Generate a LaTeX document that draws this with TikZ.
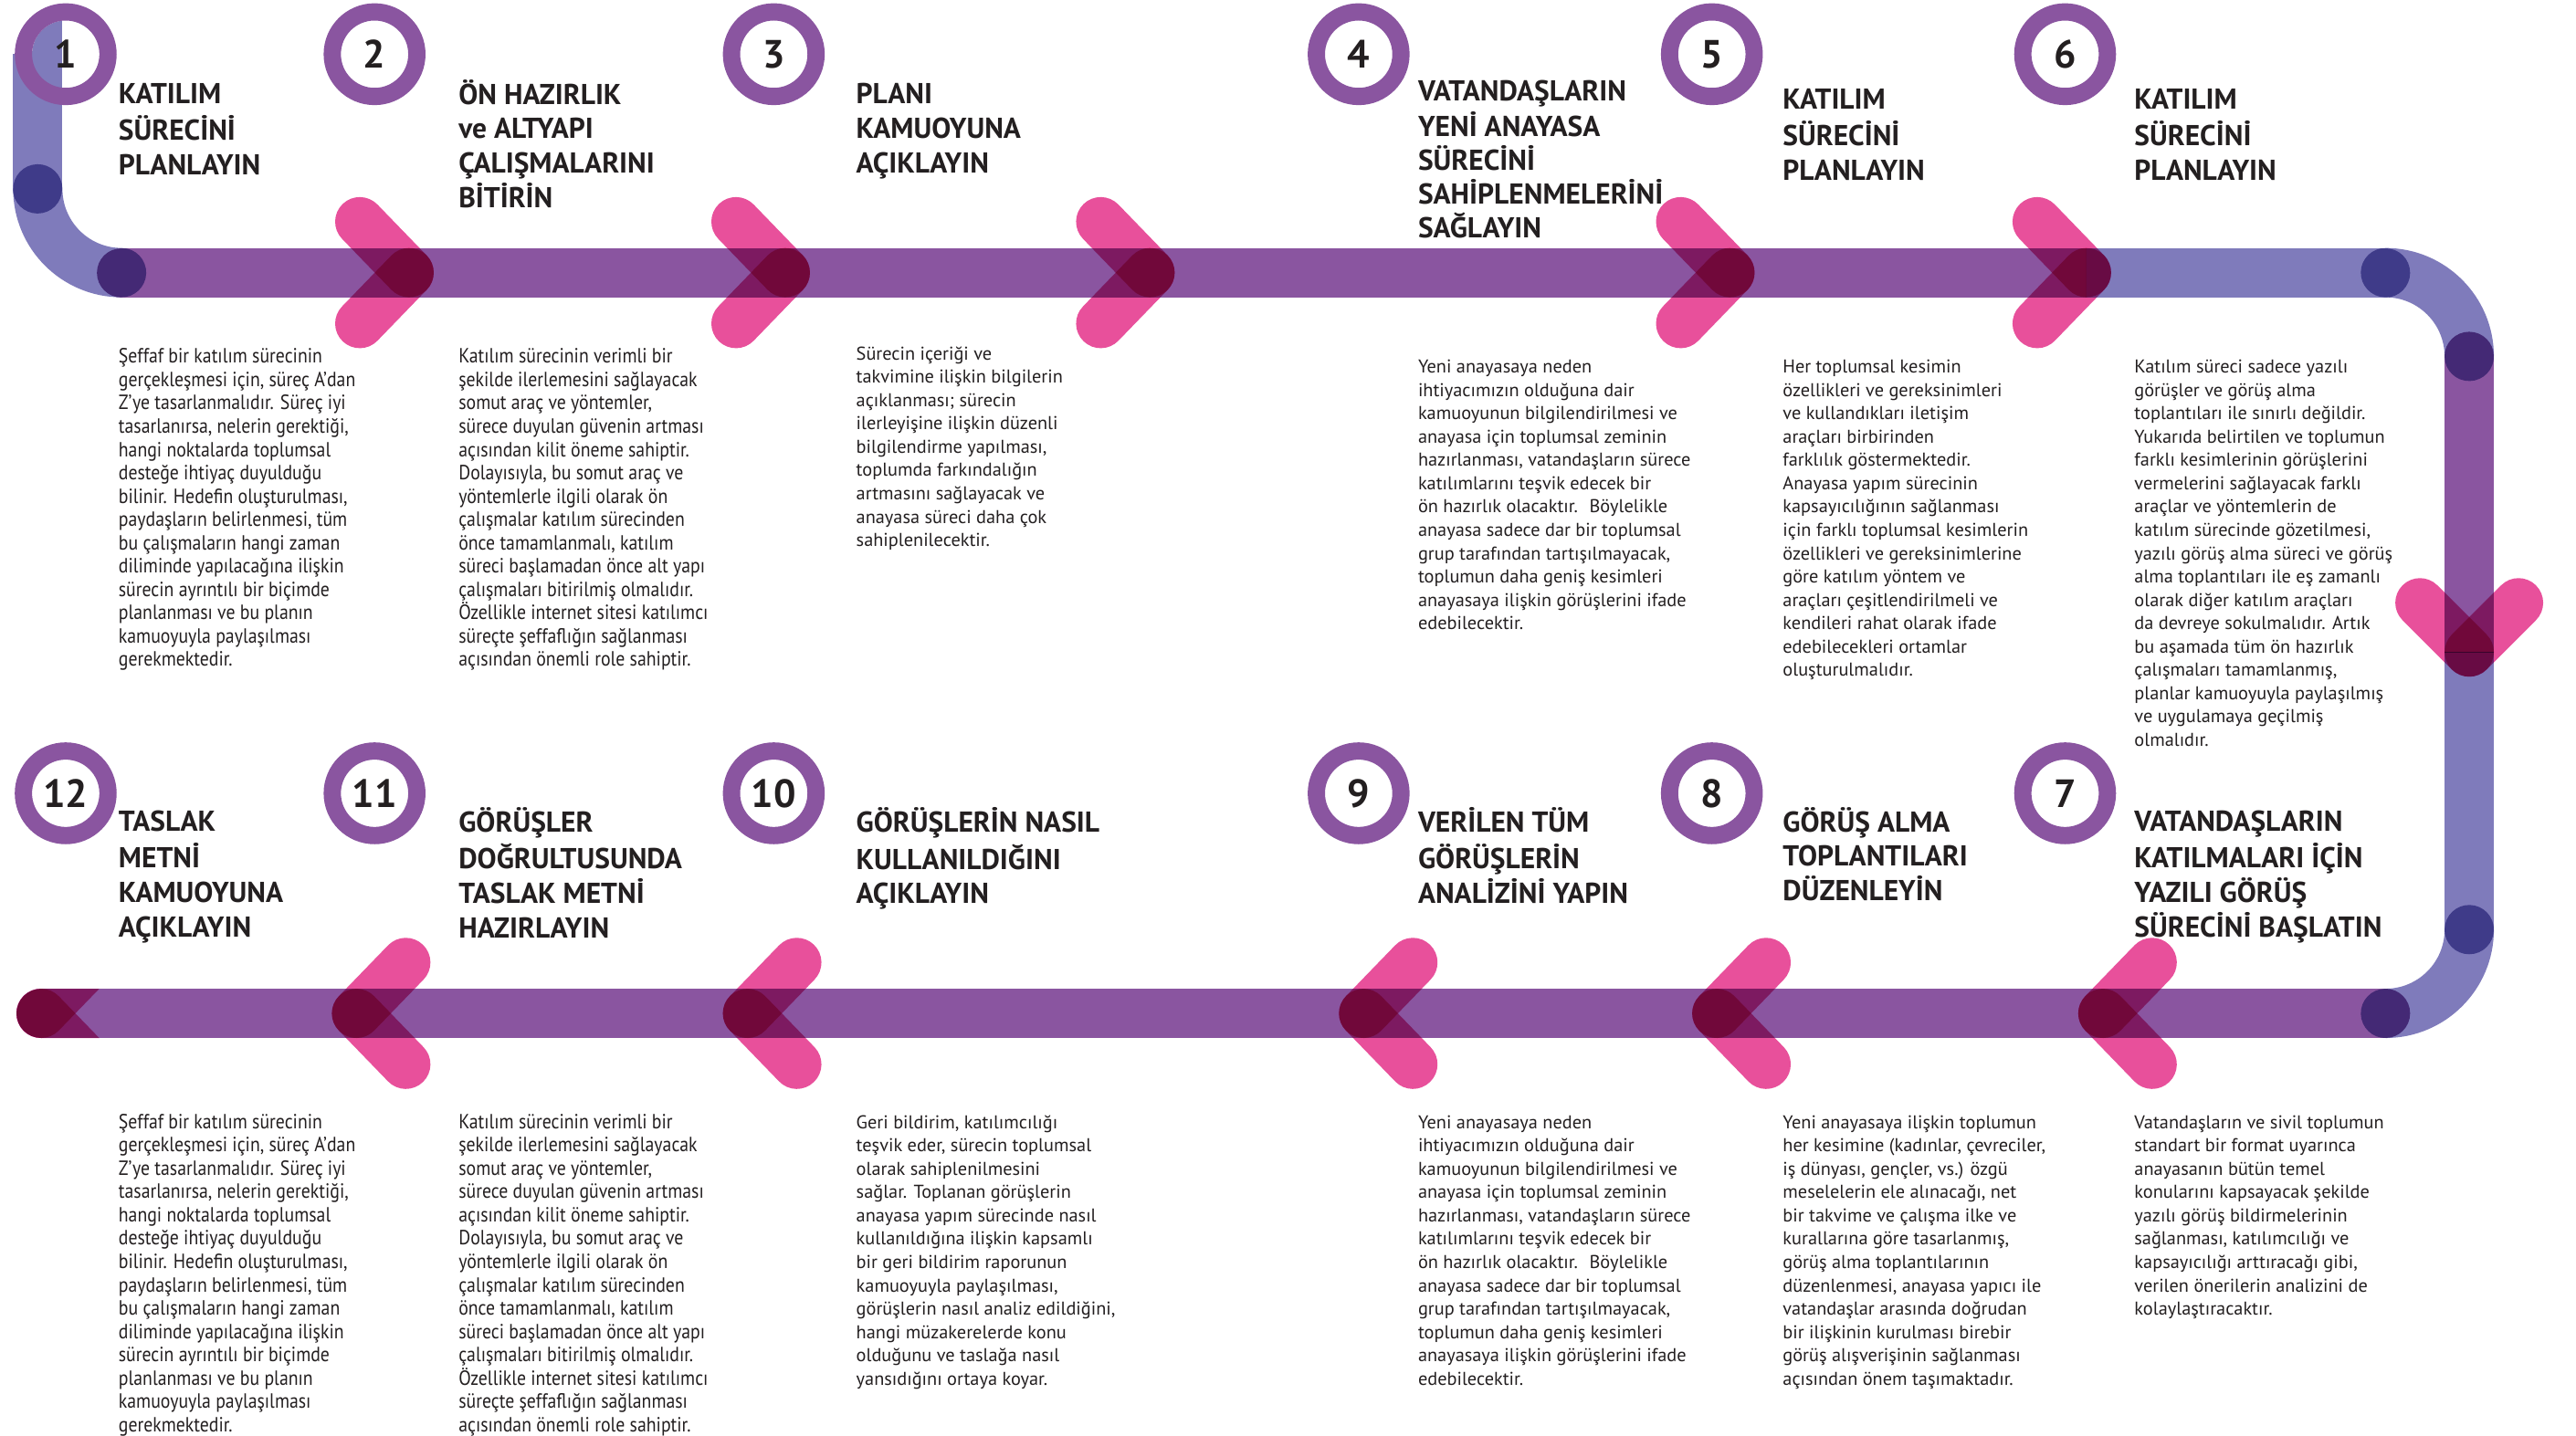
\documentclass[tikz,border=0pt]{standalone}
\usepackage{fontspec}
\setmainfont{PT Sans}
\newfontfamily\condfont[FakeStretch=0.88]{PT Sans}
\definecolor{bandpurple}{HTML}{8A55A0}
\definecolor{bandlav}{HTML}{7F7BBB}
\definecolor{chevpink}{HTML}{E8509B}
\definecolor{txt}{HTML}{231F20}
\tikzset{
  band/.style={line width=30pt, line cap=round},
  arm/.style={line width=30pt, line cap=round, draw=chevpink},
  numring/.style={circle, draw=bandpurple, line width=10.5pt, minimum size=51.5pt, inner sep=0pt,
    text=txt, font=\bfseries\fontsize{24}{24}\selectfont},
  head/.style={anchor=north west, inner sep=0pt, align=left, text=txt,
    font=\bfseries\fontsize{17.5}{21}\selectfont},
  body/.style={anchor=north west, inner sep=0pt, align=left, text=txt,
    font=\fontsize{11.3}{14.2}\selectfont},
  cbody/.style={anchor=north west, inner sep=0pt, align=left, text=txt,
    font=\condfont\fontsize{12.5}{14.2}\selectfont},
}
\newcommand\TxtPlanA{\strut Şeffaf bir katılım sürecinin\\gerçekleşmesi için, süreç A’dan\\Z’ye tasarlanmalıdır. Süreç iyi\\tasarlanırsa, nelerin gerektiği,\\hangi noktalarda toplumsal\\desteğe ihtiyaç duyulduğu\\bilinir. Hedefin oluşturulması,\\paydaşların belirlenmesi, tüm\\bu çalışmaların hangi zaman\\diliminde yapılacağına ilişkin\\sürecin ayrıntılı bir biçimde\\planlanması ve bu planın\\kamuoyuyla paylaşılması\\gerekmektedir.}
\newcommand\TxtPlanB{\strut Katılım sürecinin verimli bir\\şekilde ilerlemesini sağlayacak\\somut araç ve yöntemler,\\sürece duyulan güvenin artması\\açısından kilit öneme sahiptir.\\Dolayısıyla, bu somut araç ve\\yöntemlerle ilgili olarak ön\\çalışmalar katılım sürecinden\\önce tamamlanmalı, katılım\\süreci başlamadan önce alt yapı\\çalışmaları bitirilmiş olmalıdır.\\Özellikle internet sitesi katılımcı\\süreçte şeffaflığın sağlanması\\açısından önemli role sahiptir.}
\newcommand\TxtPlanD{\strut Yeni anayasaya neden\\ihtiyacımızın olduğuna dair\\kamuoyunun bilgilendirilmesi ve\\anayasa için toplumsal zeminin\\hazırlanması, vatandaşların sürece\\katılımlarını teşvik edecek bir\\ön hazırlık olacaktır.~ Böylelikle\\anayasa sadece dar bir toplumsal\\grup tarafından tartışılmayacak,\\toplumun daha geniş kesimleri\\anayasaya ilişkin görüşlerini ifade\\edebilecektir.}
\begin{document}
\begin{tikzpicture}[x=1pt,y=-1pt]
\fill[white] (0,0) rectangle (1568,874);
\useasboundingbox (0,0) rectangle (1568,874);

\begin{scope}[blend mode=multiply]
  % band inside circle 1
  \begin{scope}
    \clip (40,33) circle[radius=20.5];
    \fill[bandlav] (8,0) rectangle (38,33);
  \end{scope}
  \begin{scope}
    \clip (0,33) rectangle (100,300);
    \draw[band,bandlav] (23,33) -- (23,115);
  \end{scope}
  \draw[band,bandlav] (23,115) arc[start angle=180, end angle=90, radius=51];
  \begin{scope}
    \clip (0,100) rectangle (1270,250);
    \draw[band,bandpurple] (74,166) -- (1270,166);
  \end{scope}
  \begin{scope}
    \clip (1270,100) rectangle (1568,250);
    \draw[band,bandlav] (1270,166) -- (1452,166);
  \end{scope}
  \draw[band,bandlav] (1452,166) arc[start angle=270, end angle=360, radius=51];
  \begin{scope}
    \clip (1400,150) rectangle (1568,397);
    \draw[band,bandpurple] (1503,217) -- (1503,397);
  \end{scope}
  \begin{scope}
    \clip (1400,397) rectangle (1568,700);
    \draw[band,bandlav] (1503,397) -- (1503,566);
  \end{scope}
  \draw[band,bandlav] (1503,566) arc[start angle=0, end angle=90, radius=51];
  \draw[band,bandpurple] (1452,617) -- (25,617);

  % chevrons, top row (pointing right)
  \foreach \t in {249,478,700,1053,1270}{
    \draw[arm] (\t-30,135) -- (\t,166);
    \draw[arm] (\t-30,197) -- (\t,166);
  }
  % chevron on the right side (pointing down)
  \draw[arm] (1473,367) -- (1503,397);
  \draw[arm] (1533,367) -- (1503,397);
  % chevrons, bottom row (pointing left)
  \foreach \t in {217,455,830,1045,1280}{
    \draw[arm] (\t+30,586) -- (\t,617);
    \draw[arm] (\t+30,648) -- (\t,617);
  }
  % end of the line
  \begin{scope}
    \clip (25,602) -- (300,602) -- (300,632) -- (25,632)
      arc[start angle=90, end angle=270, radius=15] -- cycle;
    \draw[arm] (55,586) -- (25,617);
    \draw[arm] (55,648) -- (25,617);
  \end{scope}
\end{scope}

% number rings
\node[numring] (n1) at (40,33) {1};
\node[numring] (n2) at (228,33) {2};
\node[numring] (n3) at (471,33) {3};
\node[numring] (n4) at (827,33) {4};
\node[numring] (n5) at (1042,33) {5};
\node[numring] (n6) at (1257,33) {6};
\node[numring] (n12) at (40,483) {12};
\node[numring] (n11) at (228,483) {11};
\node[numring] (n10) at (471,483) {10};
\node[numring] (n9) at (827,483) {9};
\node[numring] (n8) at (1042,483) {8};
\node[numring] (n7) at (1257,483) {7};

% headings, top row
\node[head] (h1) at (72,48.3) {\strut KATILIM\\SÜRECİNİ\\PLANLAYIN};
\node[head] (h2) at (279,48.3) {\strut ÖN HAZIRLIK\\ve ALTYAPI\\ÇALIŞMALARINI\\BİTİRİN};
\node[head] (h3) at (521,48.3) {\strut PLANI\\KAMUOYUNA\\AÇIKLAYIN};
\node[head, font=\bfseries\fontsize{17.5}{20.5}\selectfont] (h4) at (863,46.6) {\strut VATANDAŞLARIN\\YENİ ANAYASA\\SÜRECİNİ\\SAHİPLENMELERİNİ\\SAĞLAYIN};
\node[head] (h5) at (1085,51.3) {\strut KATILIM\\SÜRECİNİ\\PLANLAYIN};
\node[head] (h6) at (1299,51.3) {\strut KATILIM\\SÜRECİNİ\\PLANLAYIN};
% headings, bottom row
\node[head] (h12) at (72,491.3) {\strut TASLAK\\METNİ\\KAMUOYUNA\\AÇIKLAYIN};
\node[head] (h11) at (279,491.3) {\strut GÖRÜŞLER\\DOĞRULTUSUNDA\\TASLAK METNİ\\HAZIRLAYIN};
\node[head] (h10) at (521,491.3) {\strut GÖRÜŞLERİN NASIL\\KULLANILDIĞINI\\AÇIKLAYIN};
\node[head] (h9) at (863,491.3) {\strut VERİLEN TÜM\\GÖRÜŞLERİN\\ANALİZİNİ YAPIN};
\node[head] (h8) at (1085,491.3) {\strut GÖRÜŞ ALMA\\TOPLANTILARI\\DÜZENLEYİN};
\node[head] (h7) at (1299,491.3) {\strut VATANDAŞLARIN\\KATILMALARI İÇİN\\YAZILI GÖRÜŞ\\SÜRECİNİ BAŞLATIN};

% body texts, top row
\node[cbody] (b1) at (72,211) {\TxtPlanA};
\node[cbody] (b2) at (279,211) {\TxtPlanB};
\node[body] (b3) at (521,209) {\strut Sürecin içeriği ve\\takvimine ilişkin bilgilerin\\açıklanması; sürecin\\ilerleyişine ilişkin düzenli\\bilgilendirme yapılması,\\toplumda farkındalığın\\artmasını sağlayacak ve\\anayasa süreci daha çok\\sahiplenilecektir.};
\node[body] (b4) at (863,217) {\TxtPlanD};
\node[body] (b5) at (1085,217) {\strut Her toplumsal kesimin\\özellikleri ve gereksinimleri\\ve kullandıkları iletişim\\araçları birbirinden\\farklılık göstermektedir.\\Anayasa yapım sürecinin\\kapsayıcılığının sağlanması\\için farklı toplumsal kesimlerin\\özellikleri ve gereksinimlerine\\göre katılım yöntem ve\\araçları çeşitlendirilmeli ve\\kendileri rahat olarak ifade\\edebilecekleri ortamlar\\oluşturulmalıdır.};
\node[body] (b6) at (1299,217) {\strut Katılım süreci sadece yazılı\\görüşler ve görüş alma\\toplantıları ile sınırlı değildir.\\Yukarıda belirtilen ve toplumun\\farklı kesimlerinin görüşlerini\\vermelerini sağlayacak farklı\\araçlar ve yöntemlerin de\\katılım sürecinde gözetilmesi,\\yazılı görüş alma süreci ve görüş\\alma toplantıları ile eş zamanlı\\olarak diğer katılım araçları\\da devreye sokulmalıdır. Artık\\bu aşamada tüm ön hazırlık\\çalışmaları tamamlanmış,\\planlar kamuoyuyla paylaşılmış\\ve uygulamaya geçilmiş\\olmalıdır.};
% body texts, bottom row
\node[cbody] (b12) at (72,677) {\TxtPlanA};
\node[cbody] (b11) at (279,677) {\TxtPlanB};
\node[body] (b10) at (521,677) {\strut Geri bildirim, katılımcılığı\\teşvik eder, sürecin toplumsal\\olarak sahiplenilmesini\\sağlar. Toplanan görüşlerin\\anayasa yapım sürecinde nasıl\\kullanıldığına ilişkin kapsamlı\\bir geri bildirim raporunun\\kamuoyuyla paylaşılması,\\görüşlerin nasıl analiz edildiğini,\\hangi müzakerelerde konu\\olduğunu ve taslağa nasıl\\yansıdığını ortaya koyar.};
\node[body] (b9) at (863,677) {\TxtPlanD};
\node[body] (b8) at (1085,677) {\strut Yeni anayasaya ilişkin toplumun\\her kesimine (kadınlar, çevreciler,\\iş dünyası, gençler, vs.) özgü\\meselelerin ele alınacağı, net\\bir takvime ve çalışma ilke ve\\kurallarına göre tasarlanmış,\\görüş alma toplantılarının\\düzenlenmesi, anayasa yapıcı ile\\vatandaşlar arasında doğrudan\\bir ilişkinin kurulması birebir\\görüş alışverişinin sağlanması\\açısından önem taşımaktadır.};
\node[body] (b7) at (1299,677) {\strut Vatandaşların ve sivil toplumun\\standart bir format uyarınca\\anayasanın bütün temel\\konularını kapsayacak şekilde\\yazılı görüş bildirmelerinin\\sağlanması, katılımcılığı ve\\kapsayıcılığı arttıracağı gibi,\\verilen önerilerin analizini de\\kolaylaştıracaktır.};
\end{tikzpicture}
\end{document}
